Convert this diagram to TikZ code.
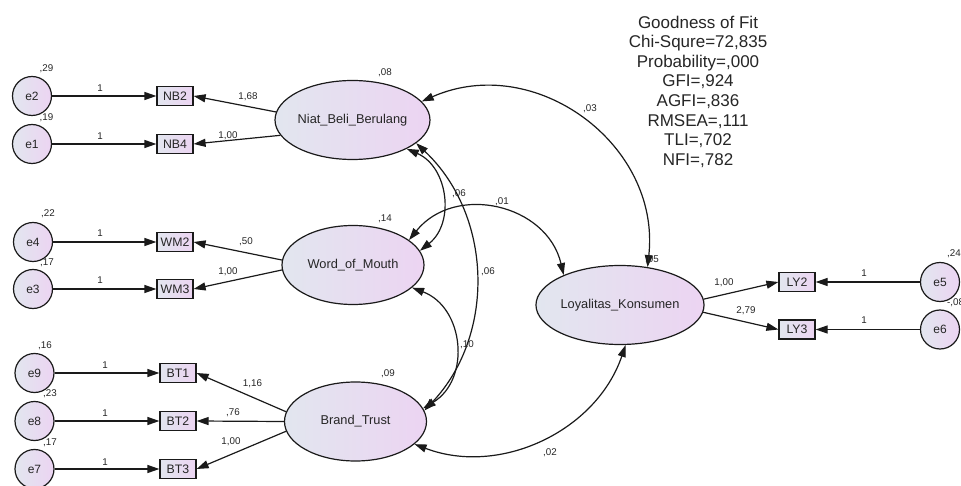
\documentclass[tikz,border=0pt]{standalone}
\usepackage{fontspec}
\setmainfont{Liberation Sans}
\usetikzlibrary{arrows.meta,shapes.geometric}

\definecolor{ink}{HTML}{1A1A1A}
\definecolor{txt}{HTML}{262626}
\definecolor{shadeL}{RGB}{226,230,239}
\definecolor{shadeR}{RGB}{236,212,242}

\tikzset{
  arr/.style={line width=1.2pt, draw=ink, -{Triangle[length=12pt,width=8pt]}},
  cov/.style={line width=1.2pt, draw=ink,
    {Triangle[length=12pt,width=8pt]}-{Triangle[length=12pt,width=8pt]}},
  latent/.style={ellipse, draw=ink, line width=1.2pt, left color=shadeL,
    right color=shadeR, minimum width=142pt, minimum height=79pt,
    inner sep=0pt, text=txt, font=\fontsize{12.8}{14}\selectfont},
  errc/.style={circle, draw=ink, line width=1.2pt, left color=shadeL,
    right color=shadeR, minimum size=39pt, inner sep=0pt, text=txt,
    font=\fontsize{12}{14}\selectfont},
  obs/.style={rectangle, draw=ink, line width=1.2pt, left color=shadeL,
    right color=shadeR, minimum width=36pt, minimum height=19pt,
    inner sep=0pt, text=txt, font=\fontsize{12.3}{14}\selectfont},
  num/.style={inner sep=0pt, text=txt, font=\fontsize{9.8}{11}\selectfont},
  fit/.style={inner sep=0pt, text=txt, align=center,
    font=\fontsize{17}{19.6}\selectfont},
}

\begin{document}
\begin{tikzpicture}[x=1pt, y=-1pt]
\fill[white] (0,0) rectangle (961,486);
\useasboundingbox (0,0) rectangle (961,486);

% latent constructs
\node[latent] (niat) at (352.5,120) {Niat\_Beli\_Berulang};
\node[latent] (wom)  at (353,265)   {Word\_of\_Mouth};
\node[latent] (bt)   at (355.5,421.5) {Brand\_Trust};
\node[latent] (loy)  at (620,305)   {Loyalitas\_Konsumen};

% indicators
\node[obs] (nb2) at (175,96)  {NB2};
\node[obs] (nb4) at (175,144) {NB4};
\node[obs] (wm2) at (175,242) {WM2};
\node[obs] (wm3) at (175,289) {WM3};
\node[obs] (bt1) at (178,373) {BT1};
\node[obs] (bt2) at (178,421) {BT2};
\node[obs] (bt3) at (178,469) {BT3};
\node[obs] (ly2) at (797,282) {LY2};
\node[obs] (ly3) at (797,329.5) {LY3};

% error terms
\node[errc] (e2) at (32,96)    {e2};
\node[errc] (e1) at (32,144)   {e1};
\node[errc] (e4) at (33,242)   {e4};
\node[errc] (e3) at (33,289)   {e3};
\node[errc] (e9) at (34.5,373) {e9};
\node[errc] (e8) at (34.5,421) {e8};
\node[errc] (e7) at (34.5,469) {e7};
\node[errc] (e5) at (940,282)  {e5};
\node[errc] (e6) at (940,329.5) {e6};

% error paths
\draw[arr] (e2) -- (nb2);
\draw[arr] (e1) -- (nb4);
\draw[arr] (e4) -- (wm2);
\draw[arr] (e3) -- (wm3);
\draw[arr] (e9) -- (bt1);
\draw[arr] (e8) -- (bt2);
\draw[arr] (e7) -- (bt3);
\draw[arr] (e5) -- (ly2);
\draw[arr] (e6) -- (ly3);

% loadings
\draw[arr] (niat.174) -- (nb2.east);
\draw[arr] (niat.192) -- (nb4.east);
\draw[arr] (wom.176) -- (wm2.east);
\draw[arr] (wom.184) -- (wm3.east);
\draw[arr] (bt.172) -- (bt1.east);
\draw[arr] (bt.180) -- (bt2.east);
\draw[arr] (bt.188) -- (bt3.east);
\draw[arr] (loy.4) -- (ly2.west);
\draw[arr] (loy.-5) -- (ly3.west);

% covariances
\draw[cov] (niat.15) to[bend left=60, looseness=1.13] (loy.54);
\draw[cov] (wom.24) to[bend left=64, looseness=1.18] (loy.152);
\draw[cov] (niat.-28) to[bend left=59, looseness=1.12] (wom.12);
\draw[cov] (niat.-20) to[bend left=45] (bt.9);
\draw[cov] (wom.-21) to[bend left=64, looseness=1.18] (bt.11);
\draw[cov] (bt.-21) to[bend right=46] (loy.-82);

% error variances
\node[num] (v29) at (46.5,69)  {,29};
\node[num] (v19) at (46.5,117.5) {,19};
\node[num] (v22) at (48,214)   {,22};
\node[num] (v17a) at (47,262.5) {,17};
\node[num] (v16) at (45,346)   {,16};
\node[num] (v23) at (50,394)   {,23};
\node[num] (v17b) at (50,443)  {,17};
\node[num, anchor=west] (v24) at (947,254) {,24};
\node[num, anchor=west] (v08) at (947,303) {-,08};

% construct variances
\node[num] (vnb) at (385,73)  {,08};
\node[num] (vwm) at (385,219) {,14};
\node[num] (vbt) at (388,374) {,09};
\node[num] (vly) at (652,260) {,05};

% error path weights
\node[num] (w1) at (100,88)  {1};
\node[num] (w2) at (100,136) {1};
\node[num] (w3) at (100,233) {1};
\node[num] (w4) at (100,280) {1};
\node[num] (w5) at (105,365) {1};
\node[num] (w6) at (105,413) {1};
\node[num] (w7) at (105,462) {1};
\node[num] (w8) at (864,273) {1};
\node[num] (w9) at (864,320) {1};

% loading estimates
\node[num] (l1) at (248,97)    {1,68};
\node[num] (l2) at (228,136)   {1,00};
\node[num] (l3) at (246,242)   {,50};
\node[num] (l4) at (228,272)   {1,00};
\node[num] (l5) at (252.5,384) {1,16};
\node[num] (l6) at (233,413)   {,76};
\node[num] (l7) at (231,442)   {1,00};
\node[num] (l8) at (724,283)   {1,00};
\node[num] (l9) at (746,311)   {2,79};

% covariance estimates
\node[num] (c1) at (590,109) {,03};
\node[num] (c2) at (502,202) {,01};
\node[num] (c3) at (459,194) {,06};
\node[num] (c4) at (488,272) {,06};
\node[num] (c5) at (467,345) {,10};
\node[num] (c6) at (550,453) {,02};

% fit indices
\node[fit, anchor=north] (gof) at (698,15.6)
  {Goodness of Fit\\Chi-Squre=72,835\\Probability=,000\\GFI=,924\\
   AGFI=,836\\RMSEA=,111\\TLI=,702\\NFI=,782};
\end{tikzpicture}
\end{document}
